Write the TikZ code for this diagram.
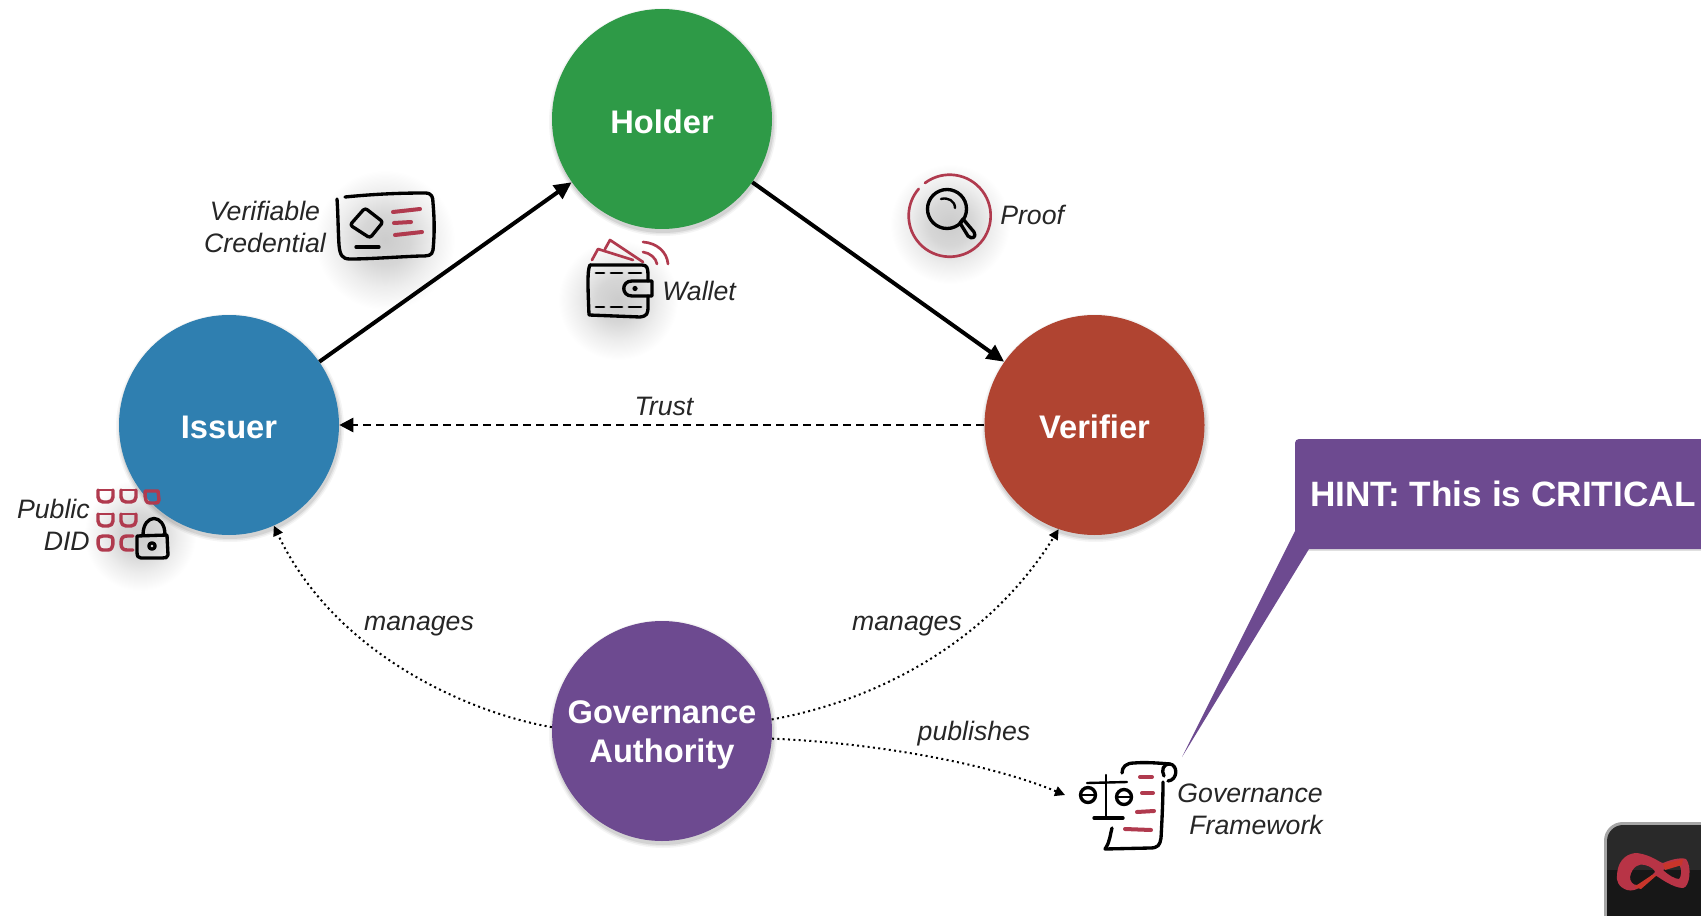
\documentclass[tikz,border=0pt]{standalone}
\usepackage{fontspec}
\setmainfont{Liberation Sans}
\usetikzlibrary{arrows.meta}
\definecolor{holdergreen}{HTML}{2E9A47}
\definecolor{issuerblue}{HTML}{2F7FB0}
\definecolor{verifierred}{HTML}{B04431}
\definecolor{govpurple}{HTML}{6D4A90}
\definecolor{iconred}{HTML}{B03A4E}
\definecolor{badgebright}{HTML}{C8352A}
\pgfdeclareradialshading{softglow}{\pgfpoint{0bp}{0bp}}{color(0bp)=(black!20); color(9bp)=(black!16); color(17bp)=(black!7); color(25bp)=(white); color(50bp)=(white)}
\newcommand{\softspot}[3]{\shade[shading=softglow] (#1,#2) circle [radius=#3];}
\newcommand{\circleshade}[2]{%
  \foreach \rr/\oo in {114/0.04,112.5/0.06,111/0.08}{\fill[black,opacity=\oo] (#1+1,#2+3) circle [radius=\rr];}}
\newcommand{\didcup}[2]{\draw[didstroke] (#1,#2) -- (#1,#2+7) to[out=-90,in=180] (#1+5,#2+12) -- (#1+10,#2+12) to[out=0,in=-90] (#1+15,#2+7) -- (#1+15,#2);
  \draw[iconred,line width=0.8pt] (#1,#2) -- (#1+15,#2);}
\tikzset{
  x=0.75pt,y=-0.75pt,
  actor/.style={circle,minimum size=165pt,inner sep=0pt},
  actorlab/.style={inner sep=0pt,text=white,align=center,font=\fontsize{24.5}{29}\selectfont\bfseries,yshift=-2.3pt},
  lab/.style={inner sep=0pt,align=center,font=\fontsize{20}{24}\selectfont\itshape,text=black!85},
  solidflow/.style={line width=3pt,-{Triangle[length=13pt,width=12pt]}},
  trustflow/.style={line width=2pt,dash pattern=on 6pt off 4pt,-{Triangle[length=10.5pt,width=10.5pt]}},
  dotflow/.style={line width=1.5pt,dash pattern=on 1.5pt off 2.5pt,-{Triangle[length=7.5pt,width=7.5pt]}},
  inkstroke/.style={draw=black,line width=2.5pt,line cap=round,line join=round},
  thinink/.style={draw=black,line width=1.8pt,line cap=round,line join=round},
  redstroke/.style={draw=iconred,line width=2pt,line cap=round,line join=round},
  didstroke/.style={draw=iconred,line width=2.6pt,line cap=round,line join=round},
  redbar/.style={draw=iconred,line width=3pt,line cap=round},
}
\begin{document}
\begin{tikzpicture}
\path[use as bounding box,clip] (0,0) rectangle (1701,916);
\fill[white] (0,0) rectangle (1701,916);
% soft shadows
\softspot{385}{240}{70}
\softspot{618}{300}{60}
\softspot{950}{224}{60}
\softspot{140}{535}{56}
\circleshade{662}{119}
\circleshade{229}{425}
\circleshade{1094.5}{425}
\circleshade{662}{731}
% actors
\node[actor,fill=holdergreen,label={[actorlab]center:Holder}] (holder) at (662,119) {};
\node[actor,fill=issuerblue,label={[actorlab,yshift=0.8pt]center:Issuer}] (issuer) at (229,425) {};
\node[actor,fill=verifierred,label={[actorlab,yshift=0.8pt]center:Verifier}] (verifier) at (1094.5,425) {};
\node[actor,fill=govpurple,label={[actorlab,yshift=-0.7pt]center:{Governance\\Authority}}] (gov) at (662,731) {};
% connectors
\coordinate (fwin) at (1065,795);
\draw[solidflow] (issuer.35) -- (holder.215);
\draw[solidflow] (holder.-35) -- (verifier.145);
\draw[trustflow] (verifier.west) -- (issuer.east);
\draw[dotflow] (gov.178) .. controls (470,713) and (335,655) .. (issuer.-66);
\draw[dotflow] (gov.6) .. controls (880,700) and (990,640) .. (verifier.-109);
\draw[dotflow] (gov.-4) .. controls (860,742) and (980,760) .. (fwin);
% labels
\node[lab] (vclab) at (265,227) {Verifiable\\Credential};
\node[lab,anchor=base west] (walletlab) at (662,300) {Wallet};
\node[lab,anchor=base west] (prooflab) at (1000,225) {Proof};
\node[lab,anchor=base] (trustlab) at (664,415) {Trust};
\node[lab,anchor=base] (m1) at (419,630) {manages};
\node[lab,anchor=base] (m2) at (907,630) {manages};
\node[lab,anchor=base] (publ) at (974,740) {publishes};
\node[lab,align=right,anchor=east] (didlab) at (90,525) {Public\\DID};
\node[lab,align=right,anchor=east] (fwlab) at (1323,809) {Governance\\Framework};
% credential icon
\draw[inkstroke] (345,197) .. controls (375,194) and (400,193) .. (425,193) .. controls (432,193) and (433,197) .. (433,203) .. controls (435,225) and (434,240) .. (433,250) .. controls (432,256) and (428,256) .. (420,256) .. controls (395,257) and (370,259) .. (350,259) .. controls (342,259) and (340,255) .. (339,245) .. controls (338,228) and (338,212) .. (337,199);
\draw[inkstroke,rounded corners=2pt] (365,208) -- (383,222) -- (370,238) -- (350,225) -- cycle;
\draw[inkstroke] (356,247) -- (379,247);
\draw[redbar] (393,212) -- (420,209);
\draw[redbar] (394,223) -- (411,222);
\draw[redbar] (395,235) -- (422,232);
% wallet icon
\draw[inkstroke] (590,265) -- (642,265) .. controls (647,265) and (648,268) .. (648,275) -- (648,281);
\draw[inkstroke] (590,265) .. controls (587,270) and (588,290) .. (589,315) -- (640,317) .. controls (647,316) and (648,314) .. (648,306) -- (648,296);
\draw[inkstroke] (652,281) -- (632,281) .. controls (621,281) and (621,296) .. (632,296) -- (652,296) -- cycle;
\fill[black] (635,288.5) circle [radius=2.6];
\foreach \ya in {273,307}{
  \draw[thinink,line width=2.2pt] (596,\ya) -- (604,\ya);
  \draw[thinink,line width=2.2pt] (611,\ya) -- (622,\ya);
  \draw[thinink,line width=2.2pt] (629,\ya) -- (641,\ya);
}
\draw[redstroke] (592,260) -- (598,249) -- (633,260);
\draw[redstroke] (605,249) -- (610,240) -- (643,262);
\draw[redstroke] (643,242) .. controls (657,243) and (667,252) .. (668,264);
\draw[redstroke] (643,252) .. controls (650,253) and (656,258) .. (657,264);
% proof icon
\draw[redstroke] (925,183) arc (-127:221:41);
\draw[inkstroke] (947,209) circle [radius=19.5];
\draw[thinink] (941,199) .. controls (948,197) and (955,201) .. (955,208);
\draw[inkstroke] (960,223) -- (963,219) -- (974,232) .. controls (977,237) and (972,240) .. (968,236) -- cycle;
% public DID icon
\didcup{98}{490}
\didcup{121}{490}
\draw[didstroke] (145,491) -- (158,491) -- (159,500) .. controls (159,503) and (157,503) .. (155,503) -- (150,503) .. controls (146,503) and (145,500) .. (145,491);
\didcup{98}{514}
\didcup{121}{514}
\draw[didstroke] (98,541) .. controls (98,537) and (100,536) .. (103,536) -- (108,536) .. controls (111,536) and (113,537) .. (113,541) .. controls (113,548) and (111,550) .. (108,550) -- (103,550) .. controls (100,550) and (98,548) .. (98,541);
\draw[didstroke] (133,536) -- (127,536) .. controls (123,536) and (121,538) .. (121,543) .. controls (121,548) and (123,550) .. (127,550) -- (133,550);
\draw[inkstroke] (137,536) -- (167,535) -- (168,555) .. controls (168,558) and (165,558) .. (162,558) -- (141,558) .. controls (138,558) and (137,556) .. (137,552) -- cycle;
\draw[inkstroke] (143,535) .. controls (143,513) and (165,513) .. (165,535);
\draw[inkstroke] (152,546) circle [radius=3.2];
% governance framework icon
\draw[inkstroke] (1122,773) .. controls (1122,767) and (1126,763) .. (1134,763) .. controls (1145,762) and (1158,763) .. (1170,764);
\draw[inkstroke] (1168,781) .. controls (1178,780) and (1178,765) .. (1170,764) .. controls (1163,764) and (1161,770) .. (1164,776);
\draw[inkstroke] (1163,782) .. controls (1163,800) and (1162,820) .. (1161,838) .. controls (1160,845) and (1158,848) .. (1150,848) -- (1105,849) .. controls (1110,842) and (1110,835) .. (1112,828);
\draw[thinink] (1106,775) -- (1106,818);
\draw[inkstroke] (1094,818) -- (1123,818);
\draw[thinink] (1087,783) -- (1127,782);
\draw[inkstroke] (1088,795) circle [radius=7.5];
\draw[thinink] (1081,795) -- (1095,795);
\draw[inkstroke] (1124,797) circle [radius=7.5];
\draw[thinink] (1117,797) -- (1131,797);
\draw[redbar] (1140,777) -- (1152,777);
\draw[redbar] (1142,793) -- (1153,793);
\draw[redbar] (1137,812) -- (1154,811);
\draw[redbar] (1125,829) -- (1151,830);
% hint callout
\fill[black,opacity=0.12] (1297,444) rectangle (1705,551);
\fill[govpurple] (1182,757) -- (1295,531) -- (1295,443) arc (180:270:4) -- (1705,439) -- (1705,549) -- (1309,549) -- cycle;
\node[inner sep=0pt,anchor=base west,text=white,font=\fontsize{26.4}{30}\selectfont\bfseries] (hint) at (1310,506) {HINT: This is CRITICAL};
% app badge
\fill[black,opacity=0.35,rounded corners=14pt] (1604,822) rectangle (1720,940);
\begin{scope}
\clip[rounded corners=12pt] (1607,825) rectangle (1720,940);
\fill[black!84] (1607,825) rectangle (1720,870);
\fill[black!91] (1607,870) rectangle (1720,940);
\end{scope}
\fill[iconred!90!red,even odd rule]
 (1617,875) .. controls (1618,857) and (1630,853) .. (1637,853) .. controls (1652,855) and (1660,863) .. (1663,863) .. controls (1670,860) and (1680,857) .. (1686,859) .. controls (1692,866) and (1690,887) .. (1683,888) .. controls (1673,888) and (1660,878) .. (1655,875) .. controls (1647,882) and (1637,893) .. (1627,890) .. controls (1618,887) and (1616,880) .. (1617,875) -- cycle
 (1630,877) .. controls (1632,866) and (1640,863) .. (1645,865) .. controls (1650,866) and (1655,870) .. (1655,872) .. controls (1650,877) and (1642,885) .. (1637,885) .. controls (1633,885) and (1630,882) .. (1630,877) -- cycle
 (1663,870) .. controls (1670,866) and (1677,863) .. (1680,866) .. controls (1682,870) and (1681,878) .. (1679,879) .. controls (1675,879) and (1668,875) .. (1663,870) -- cycle;
\fill[badgebright] (1634,887) -- (1652,875) -- (1657,875) -- (1641,889) -- cycle;
\fill[badgebright] (1663,864) -- (1683,859) -- (1682,865) -- (1665,870) -- cycle;
\end{tikzpicture}
\end{document}
